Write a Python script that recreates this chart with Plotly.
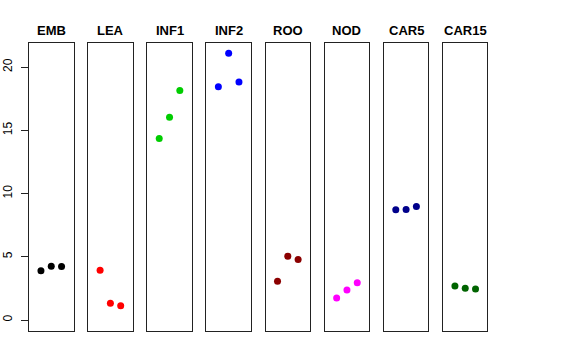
import plotly.graph_objects as go

panels = ["EMB", "LEA", "INF1", "INF2", "ROO", "NOD", "CAR5", "CAR15"]
replicate = [1, 2, 3]
values = {
    "EMB": [3.90, 4.25, 4.22],
    "LEA": [3.93, 1.32, 1.13],
    "INF1": [14.35, 16.02, 18.15],
    "INF2": [18.44, 21.08, 18.81],
    "ROO": [3.06, 5.04, 4.78],
    "NOD": [1.74, 2.37, 2.95],
    "CAR5": [8.71, 8.73, 8.97],
    "CAR15": [2.69, 2.51, 2.45],
}
colors = ["#000000", "#FF0000", "#00CD00", "#0000FF", "#8B0000", "#FF00FF", "#00008B", "#006400"]
y_ticks = [0, 5, 10, 15, 20]

W, H = 576, 360
left0, step, pw = 29, 59.14, 44.5
box_top, box_bot = 43, 331

fig = go.Figure()
layout = dict(
    width=W, height=H,
    margin=dict(l=0, r=0, t=0, b=0, autoexpand=False),
    paper_bgcolor="white", plot_bgcolor="white",
    showlegend=False,
    font=dict(family="Liberation Sans, Arial, sans-serif", color="black"),
)
annotations = []
for i, name in enumerate(panels):
    k = "" if i == 0 else str(i + 1)
    x0 = (left0 + i * step) / W
    x1 = (left0 + i * step + pw) / W
    fig.add_trace(go.Scatter(
        x=replicate, y=values[name], mode="markers",
        marker=dict(color=colors[i], size=7),
        xaxis="x" + k, yaxis="y" + k, hoverinfo="skip",
    ))
    layout["xaxis" + k] = dict(
        domain=[x0, x1], range=[-0.16, 4.16], anchor="y" + k,
        showgrid=False, zeroline=False, showticklabels=False, ticks="",
        showline=True, mirror=True, linecolor="#222222", linewidth=1,
        automargin=False,
    )
    ya = dict(
        domain=[(H - box_bot) / H, (H - box_top) / H], range=[-0.87, 21.9],
        anchor="x" + k, showgrid=False, zeroline=False,
        showline=True, mirror=True, linecolor="#222222", linewidth=1,
        automargin=False,
    )
    if i == 0:
        ya.update(tickvals=y_ticks, ticktext=[str(v) for v in y_ticks],
                  ticks="outside", ticklen=7, tickcolor="#222222",
                  tickangle=-90, tickfont=dict(size=12, color="black"),
                  ticklabelstandoff=4)
    else:
        ya.update(matches="y", showticklabels=False, ticks="")
    layout["yaxis" + k] = ya
    annotations.append(dict(
        text="<b>%s</b>" % name, x=(x0 + x1) / 2, y=(H - 30) / H,
        xref="paper", yref="paper", showarrow=False,
        xanchor="center", yanchor="middle",
        font=dict(size=13, color="black"),
    ))
layout["annotations"] = annotations
fig.update_layout(**layout)
fig.write_html("out.html", config={"displayModeBar": False},
               post_script="document.body.style.margin='0';")
